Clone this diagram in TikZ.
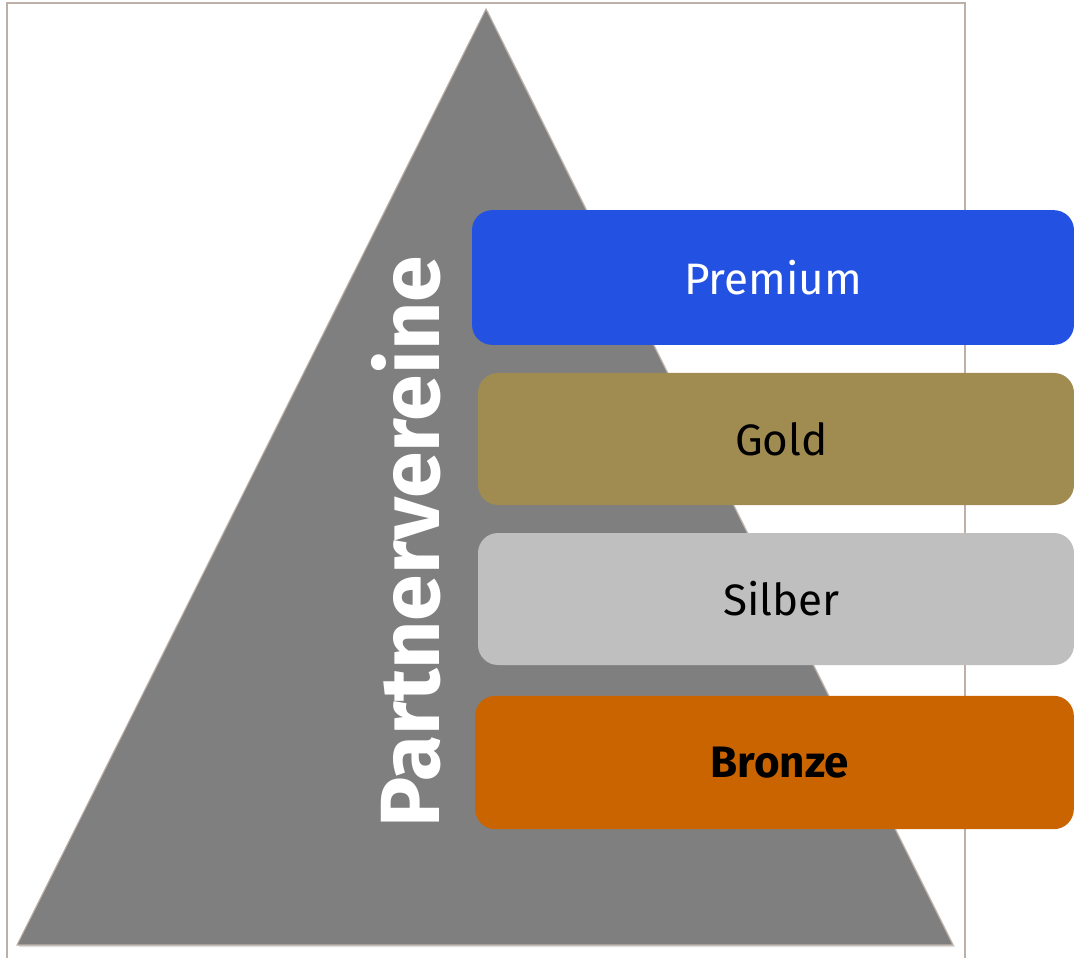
\documentclass[tikz,border=0pt]{standalone}
\usepackage{fontspec}
\setmainfont{Fira Sans}
\usetikzlibrary{shadows}

\definecolor{premiumblue}{RGB}{35,82,227}
\definecolor{goldtone}{RGB}{160,139,81}
\definecolor{silbertone}{RGB}{191,191,191}
\definecolor{bronzetone}{RGB}{201,100,0}
\definecolor{pyramidgray}{RGB}{127,127,127}
\definecolor{edgetone}{RGB}{188,176,168}

\tikzset{
  tier/.style={rounded corners=15pt, inner sep=0pt, font=\fontsize{33}{40}\selectfont},
  pyramid/.style={fill=pyramidgray, draw=edgetone, line width=0.8pt,
    drop shadow={opacity=0.25, shadow xshift=1.5pt, shadow yshift=-1.5pt}},
}

\begin{document}
\begin{tikzpicture}[x=0.75pt, y=0.75pt]
\useasboundingbox (0,0) rectangle (1074,958);

  % frame
  \draw[edgetone, line width=1pt] (7,0) -- (7,955) -- (965,955) -- (965,0);

  % pyramid
  \draw[pyramid] (17,13) -- (486,949) -- (953,13) -- cycle;

  % tiers
  \node[tier, fill=premiumblue, text=white, minimum width=451.5pt, minimum height=101pt]
       (premium) at (773,680.5) {Premium};
  \node[tier, fill=goldtone, minimum width=447pt, minimum height=99pt]
       (gold) at (776,519) {\hspace{8pt}Gold};
  \node[tier, fill=silbertone, minimum width=447pt, minimum height=99pt]
       (silber) at (776,359) {\hspace{8pt}Silber};
  \node[tier, fill=bronzetone, minimum width=449pt, minimum height=100pt]
       (bronze) at (774.5,195.5) {\hspace{8pt}\bfseries Bronze};

  % title
  \node[rotate=90, text=white, font=\fontsize{63}{72}\selectfont\bfseries]
       (title) at (406,416) {Partnervereine};

\end{tikzpicture}
\end{document}
